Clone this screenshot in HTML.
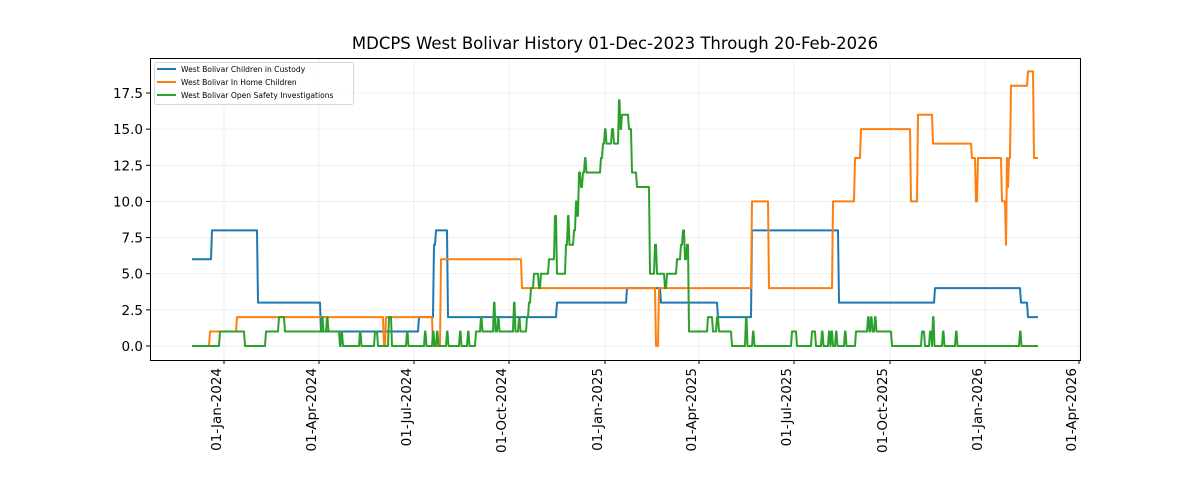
<!DOCTYPE html>
<html><head><style>
body{margin:0;background:#fff;width:1200px;height:480px;overflow:hidden}
svg text{font-family:"DejaVu Sans","Liberation Sans",sans-serif;fill:#000}
</style></head><body>
<svg id="s" width="1200" height="480" xmlns="http://www.w3.org/2000/svg">
<text x="615" y="49" font-size="16.5" text-anchor="middle">MDCPS West Bolivar History 01-Dec-2023 Through 20-Feb-2026</text>
<g id="grid" stroke="#ebebeb" stroke-width="0.8"></g>
<g id="lines" fill="none" stroke-width="2" stroke-linejoin="round"></g>
<rect x="150.5" y="58.5" width="930" height="302" fill="none" stroke="#000" stroke-width="1"/>
<g id="ticks"></g>
<rect x="154.5" y="62.5" width="199" height="42" rx="2" fill="#fff" fill-opacity="0.8" stroke="#ccc" stroke-width="0.8"/>
<line x1="157" y1="69" x2="176" y2="69" stroke="#1f77b4" stroke-width="2"/>
<line x1="157" y1="82" x2="176" y2="82" stroke="#ff7f0e" stroke-width="2"/>
<line x1="157" y1="95" x2="176" y2="95" stroke="#2ca02c" stroke-width="2"/>
<text x="181" y="72" font-size="7.6">West Bolivar Children in Custody</text>
<text x="181" y="85" font-size="7.6">West Bolivar In Home Children</text>
<text x="181" y="98" font-size="7.6">West Bolivar Open Safety Investigations</text>
</svg>
<script>
const NS="http://www.w3.org/2000/svg";
const Y=v=>346-v*14.457;
const g=document.getElementById('grid'),t=document.getElementById('ticks'),L=document.getElementById('lines');
function el(p,tag,a,txt){const e=document.createElementNS(NS,tag);for(const k in a)e.setAttribute(k,a[k]);if(txt)e.textContent=txt;p.appendChild(e);return e;}
for(let i=0;i<=7;i++){const v=i*2.5,y=Y(v);
el(g,'line',{x1:150,x2:1080,y1:y,y2:y});
el(t,'line',{x1:146,x2:150,y1:y,y2:y,stroke:'#000'});
el(t,'text',{x:143,y:y+5,'font-size':13.5,'text-anchor':'end'},v.toFixed(1));}
const xt=[[224,'01-Jan-2024'],[319,'01-Apr-2024'],[414,'01-Jul-2024'],[509,'01-Oct-2024'],[605,'01-Jan-2025'],[699,'01-Apr-2025'],[794,'01-Jul-2025'],[890,'01-Oct-2025'],[985,'01-Jan-2026'],[1079,'01-Apr-2026']];
for(const [x,s] of xt){el(g,'line',{x1:x,x2:x,y1:58,y2:360});
el(t,'line',{x1:x,x2:x,y1:360,y2:364,stroke:'#000'});
el(t,'text',{x:0,y:0,'font-size':13.5,'text-anchor':'end',transform:`translate(${x-3},368) rotate(-90)`},s);}
function draw(d,c,end){let p=`M${d[0][0]} ${Y(d[0][1])}`;
for(let i=1;i<d.length;i++){p+=` L${d[i][0]} ${Y(d[i-1][1])} L${d[i][0]+1} ${Y(d[i][1])}`;}
p+=` L${end} ${Y(d[d.length-1][1])}`;el(L,'path',{d:p,stroke:c});}
const blue=[[192,6],[211,8],[257,3],[320,1],[418,2],[433,7],[435,8],[447,2],[556,3],[626,4],[660,3],[717,2],[751,8],[838,3],[934,4],[1020,3],[1027,2]];
const orange=[[192,0],[209,1],[236,2],[383,0],[385,2],[432,0],[440,6],[521,4],[655,0],[658,4],[751,10],[768,4],[832,10],[854,13],[860,15],[910,10],[917,16],[932,14],[971,13],[975,10],[977,13],[1001,10],[1005,7],[1006,13],[1007,11],[1008,13],[1010,18],[1027,19],[1033,13]];
let green=[[192,0],[219,1],[244,0],[265,1],[278,2],[284,1],[321,2],[322.5,1],[326,2],[327.5,1],[339,0],[340.5,1],[342,0],[359,1],[360.5,0],[374,1],[377,0],[388,2],[391,0],
[406,1],[407.5,0],[424,1],[425.5,0],[432,1],[433.5,0],[436,1],[437.5,0],[446,1],[447.5,0],[459,1],[460.5,0],[467,1],[468.5,0],
[475,1],[480,2],[481.5,1],[493,3],[494.5,1],[497,2],[498.5,1],[513,3],[514.5,1],[518,2],[519.5,1],[526,2],[528,3],[530,4],[533,5],[538,4],[540,5],[548,6],[554,9],[556,5],[565,7],[567,9],[568.5,7],[573,8],[575,10],[576.5,9],[578,12],[580,11],[582,12],[584,13],[585.5,12],[600,13],[602,14],[604,15],[605.5,14],[611,15],[613,14],[618,17],[619.5,15],[621,16],[627,16],[628,15],[631,12],[636,11],[648,11],[649,5],[652,5],[654,7],[656,5],[664,4],[666,5],[676,6],[680,7],[682,8],[684,6],[686,7],[688,1],[707,2],[712,1],[716,2],[718,1],[731,0],[745,2],[746.5,0],[752,1],[753.5,0],
[791,1],[796,0],[811,1],[815,0],[821,1],[822.5,0],[828,1],[829.5,0],[830.5,1],[832,0],[835,1],[836.5,0],[844,1],[845.5,0],[855,1],[867,2],[868.5,1],[870,2],[871.5,1],[874,2],[875.5,1],[891,0],[921,1],[924,0],[929,1],[931,0],[932,2],[933.5,0],[942,1],[943.5,0],[955,1],[956.5,0],[1019,1],[1020.5,0]];
draw(blue,'#1f77b4',1038);draw(orange,'#ff7f0e',1038);draw(green,'#2ca02c',1038);
</script>
</body></html>
